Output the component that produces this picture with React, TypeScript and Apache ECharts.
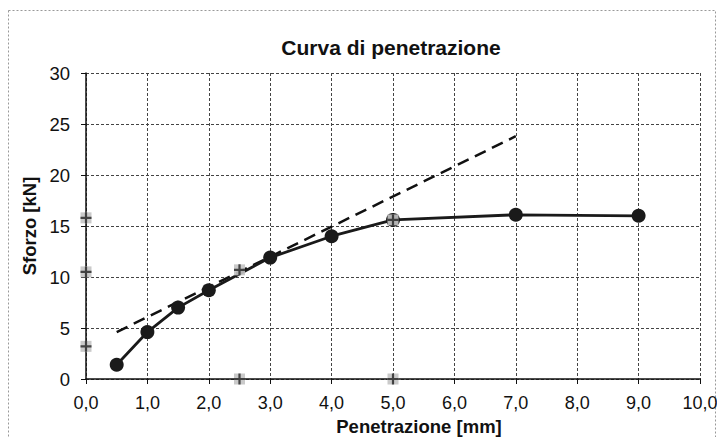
import React, { useEffect, useRef } from "react";
import * as echarts from "echarts";

const curveX = [0.5, 1.0, 1.5, 2.0, 3.0, 4.0, 5.0, 7.0, 9.0];
const curveY = [1.4, 4.6, 7.0, 8.7, 11.9, 14.0, 15.6, 16.1, 16.0];
const tangentX = [0.5, 7.0];
const tangentY = [4.6, 23.8];
const markX = [0, 0, 0, 2.5, 5.0, 2.5, 5.0];
const markY = [15.8, 10.5, 3.2, 0, 0, 10.7, 15.6];

const fmt = (v: number) => v.toFixed(1).replace(".", ",");

export default function App() {
  const ref = useRef<HTMLDivElement>(null);
  useEffect(() => {
    if (!ref.current) return;
    const chart = echarts.init(ref.current, null, { renderer: "svg" });
    const font = "Arial, 'Liberation Sans', sans-serif";
    const curve = curveX.map((x, i) => [x, curveY[i]]);
    const tangent = tangentX.map((x, i) => [x, tangentY[i]]);
    const marks = markX.map((x, i) => [x, markY[i]]);
    chart.setOption({
      animation: false,
      backgroundColor: "#fff",
      title: {
        text: "Curva di penetrazione",
        left: 386,
        textAlign: "center",
        top: 32,
        textStyle: { fontFamily: font, fontSize: 21, fontWeight: "bold", color: "#111" },
      },
      graphic: [
        {
          type: "rect",
          shape: { x: 8.5, y: 10.5, width: 707, height: 430 },
          style: { fill: "none", stroke: "#999", lineWidth: 1, lineDash: [2, 2] },
          silent: true,
        },
      ],
      grid: { left: 86, right: 17, top: 73, bottom: 58, outerBoundsMode: "none", containLabel: false },
      xAxis: {
        type: "value",
        min: 0,
        max: 10,
        interval: 1,
        name: "Penetrazione [mm]",
        nameLocation: "middle",
        nameGap: 31,
        nameTextStyle: {
          fontFamily: font,
          fontSize: 18.5,
          fontWeight: "bold",
          color: "#111",
          padding: [0, 0, 0, 52],
        },
        axisLine: { show: true, onZero: false, lineStyle: { color: "#111", width: 1.5 } },
        axisTick: { show: true, length: 5, lineStyle: { color: "#111" } },
        axisLabel: { formatter: fmt, fontFamily: font, fontSize: 18, color: "#111", margin: 15 },
        splitLine: { show: true, lineStyle: { color: "#444", type: [3, 2], width: 1 } },
      },
      yAxis: {
        type: "value",
        min: 0,
        max: 30,
        interval: 5,
        name: "Sforzo [kN]",
        nameLocation: "middle",
        nameGap: 38,
        nameTextStyle: { fontFamily: font, fontSize: 18.5, fontWeight: "bold", color: "#111" },
        axisLine: { show: true, lineStyle: { color: "#111", width: 1.5 } },
        axisTick: { show: true, length: 5, lineStyle: { color: "#111" } },
        axisLabel: { fontFamily: font, fontSize: 18.5, color: "#111", margin: 16 },
        splitLine: { show: true, lineStyle: { color: "#444", type: [3, 2], width: 1 } },
      },
      series: [
        {
          type: "line",
          data: tangent,
          symbol: "none",
          lineStyle: { color: "#111", width: 2.5, type: [12, 7] },
          z: 2,
        },
        {
          type: "line",
          data: curve,
          symbol: "circle",
          symbolSize: 14,
          itemStyle: { color: "#1a1a1a" },
          lineStyle: { color: "#1a1a1a", width: 2.8 },
          z: 3,
        },
        {
          type: "scatter",
          data: marks,
          symbol: "rect",
          symbolSize: 11,
          itemStyle: { color: "#c4c4c4", opacity: 0.9 },
          z: 4,
        },
        {
          type: "scatter",
          data: marks,
          symbol: "path://M4,0h2v10h-2zM0,4h10v2h-10z",
          symbolSize: 11,
          itemStyle: { color: "#222" },
          z: 5,
        },
      ],
    });
    return () => chart.dispose();
  }, []);
  return (
    <div
      ref={ref}
      style={{ position: "fixed", left: 0, top: 0, width: 717, height: 437 }}
    />
  );
}
